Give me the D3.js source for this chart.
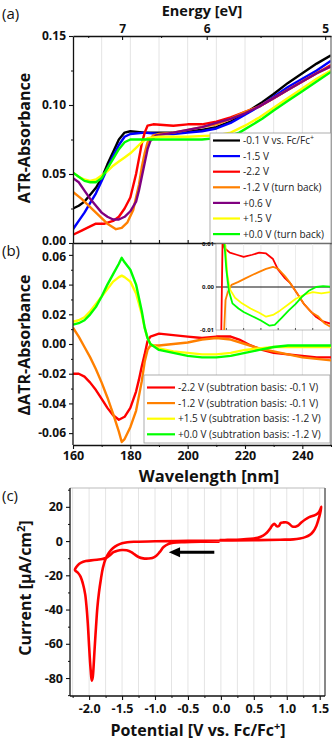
<!DOCTYPE html>
<html><head><meta charset="utf-8">
<script src="https://cdn.jsdelivr.net/npm/d3@7"></script>
<style>body{margin:0;background:#fff;} svg{display:block;}</style>
</head><body><svg id="c" width="333" height="742"></svg>
<script>
// ---------------- DATA ----------------
// Panel (a): ATR absorbance spectra [wavelength nm, absorbance]
const specM01 = [[160,0.025],[162,0.027],[164,0.030],[166,0.035],[168,0.040],[170,0.047],[172,0.057],[174,0.066],[176,0.075],[178,0.080],[180,0.081],[185,0.080],[190,0.080],[195,0.080],[200,0.081],[205,0.082],[210,0.084],[215,0.088],[220,0.094],[223,0.098],[226,0.102],[230,0.108],[235,0.116],[240,0.123],[245,0.130],[250,0.136]];
const specM15 = [[160,0.010],[162,0.016],[164,0.022],[166,0.029],[168,0.036],[170,0.045],[172,0.054],[174,0.063],[176,0.071],[178,0.077],[180,0.079],[185,0.080],[190,0.079],[195,0.079],[200,0.080],[205,0.081],[210,0.083],[215,0.087],[220,0.093],[225,0.099],[230,0.106],[235,0.113],[240,0.119],[245,0.125],[250,0.132]];
const specM22 = [[160,0.006],[163,0.009],[166,0.012],[168,0.014],[171,0.014],[174,0.016],[176,0.019],[178,0.025],[180,0.033],[182,0.050],[184,0.072],[185,0.080],[186,0.085],[188,0.086],[195,0.085],[200,0.086],[205,0.086],[210,0.088],[215,0.091],[220,0.095],[225,0.099],[230,0.105],[235,0.111],[240,0.117],[245,0.123],[250,0.129]];
const specM12 = [[160,0.037],[163,0.032],[166,0.026],[169,0.020],[172,0.014],[175,0.010],[177,0.011],[179,0.015],[181,0.024],[183,0.042],[184,0.055],[185,0.065],[186,0.073],[188,0.078],[190,0.079],[195,0.080],[200,0.082],[205,0.084],[210,0.086],[215,0.090],[220,0.095],[225,0.099],[230,0.105],[235,0.111],[240,0.117],[245,0.123],[250,0.128]];
const specP06 = [[160,0.047],[162,0.044],[164,0.038],[166,0.032],[168,0.027],[170,0.022],[172,0.019],[174,0.017],[176,0.017],[178,0.019],[180,0.023],[182,0.030],[183,0.038],[184,0.048],[185,0.058],[186,0.068],[187,0.074],[189,0.078],[195,0.080],[200,0.082],[205,0.084],[210,0.087],[215,0.090],[220,0.094],[225,0.099],[230,0.105],[235,0.111],[240,0.117],[245,0.123],[250,0.128]];
const specP15 = [[160,0.051],[162,0.048],[164,0.046],[166,0.045],[168,0.046],[170,0.049],[172,0.052],[174,0.056],[176,0.059],[178,0.062],[180,0.065],[182,0.069],[184,0.073],[186,0.076],[190,0.077],[200,0.077],[210,0.078],[215,0.080],[220,0.085],[225,0.091],[230,0.098],[235,0.105],[240,0.112],[245,0.119],[250,0.125]];
const specP00 = [[160,0.051],[162,0.048],[164,0.045],[166,0.044],[168,0.044],[170,0.047],[172,0.054],[174,0.061],[176,0.068],[178,0.073],[180,0.075],[185,0.075],[190,0.075],[195,0.075],[200,0.075],[205,0.075],[210,0.076],[215,0.078],[218,0.080],[222,0.085],[226,0.090],[230,0.096],[235,0.103],[240,0.110],[245,0.117],[250,0.124]];
const legendA = ["-0.1 V vs. Fc/Fc|+","-1.5 V","-2.2 V","-1.2 V (turn back)","+0.6 V","+1.5 V","+0.0 V (turn back)"];
const colorsA = ["#000000","#0000ff","#ff0000","#ff8000","#800080","#ffff00","#00ff00"];

// Panel (b): difference spectra [wavelength nm, dAbs]
const diffM22 = [[160,-0.020],[162,-0.020],[164,-0.022],[166,-0.026],[168,-0.031],[170,-0.037],[172,-0.043],[174,-0.048],[176,-0.051],[178,-0.049],[180,-0.043],[182,-0.032],[183,-0.024],[184,-0.015],[185,-0.007],[186,0.002],[187,0.005],[190,0.007],[195,0.006],[200,0.005],[205,0.004],[210,0.005],[215,0.005],[218,0.003],[222,-0.001],[226,-0.004],[230,-0.006],[235,-0.007],[240,-0.008],[245,-0.009],[250,-0.009]];
const diffM12 = [[160,0.011],[162,0.005],[164,-0.002],[166,-0.009],[168,-0.017],[170,-0.026],[172,-0.036],[174,-0.047],[176,-0.059],[177,-0.066],[178,-0.064],[180,-0.056],[182,-0.045],[184,-0.025],[185,-0.012],[186,-0.004],[187,-0.001],[190,-0.001],[195,0.000],[200,0.001],[205,0.003],[210,0.004],[215,0.003],[220,0.000],[225,-0.003],[230,-0.005],[235,-0.007],[240,-0.009],[245,-0.010],[250,-0.011]];
const diffP15 = [[160,0.015],[162,0.016],[164,0.018],[166,0.022],[168,0.027],[170,0.032],[172,0.037],[174,0.042],[176,0.045],[177,0.046],[178,0.045],[180,0.042],[182,0.034],[184,0.020],[185,0.011],[186,0.004],[187,0.000],[190,-0.003],[195,-0.005],[200,-0.006],[205,-0.007],[210,-0.007],[215,-0.006],[220,-0.004],[225,-0.003],[230,-0.002],[235,-0.002],[240,-0.002],[245,-0.002],[250,-0.002]];
const diffP00 = [[160,0.013],[162,0.014],[164,0.016],[166,0.020],[168,0.025],[170,0.032],[172,0.040],[174,0.047],[176,0.054],[177,0.058],[178,0.055],[180,0.050],[182,0.040],[184,0.022],[185,0.011],[186,0.004],[187,0.000],[190,-0.004],[195,-0.006],[200,-0.008],[205,-0.009],[210,-0.009],[215,-0.008],[220,-0.006],[225,-0.004],[230,-0.002],[235,-0.001],[240,-0.001],[245,-0.001],[250,-0.001]];
const legendB = ["-2.2 V (subtration basis: -0.1 V)","-1.2 V (subtration basis: -0.1 V)","+1.5 V (subtration basis: -1.2 V)","+0.0 V (subtration basis: -1.2 V)"];
const colorsB = ["#ff0000","#ff8000","#ffff00","#00ff00"];

// Inset of (b): zoomed difference spectra
const insetM22 = [[187.0,-0.012],[187.8,0.011],[189,0.009],[192,0.008],[196,0.0075],[200,0.007],[205,0.0075],[209,0.008],[213,0.0078],[217,0.0065],[220,0.004],[224,0.002],[227,0.0009],[231,-0.0015],[235,-0.004],[238,-0.0053],[242,-0.007],[246,-0.008],[250,-0.0085]];
const insetM12 = [[188.5,-0.012],[189.5,-0.003],[191,-0.001],[193,0.0005],[197,0.0012],[201,0.002],[205,0.0028],[209,0.0035],[213,0.0042],[217,0.0047],[220,0.0042],[224,0.0025],[227,0.0009],[231,-0.0015],[235,-0.004],[239,-0.0058],[243,-0.0068],[247,-0.0085],[250,-0.0092]];
const insetP15 = [[189,0.012],[190.5,0.003],[192,-0.0005],[195,-0.0025],[199,-0.0038],[204,-0.005],[209,-0.006],[213,-0.0069],[217,-0.0065],[221,-0.0055],[226,-0.004],[230,-0.0028],[235,-0.0018],[240,-0.0012],[245,-0.0015],[250,-0.0012]];
const insetP00 = [[188.5,0.012],[190,0.004],[191.5,-0.001],[193.5,-0.0038],[197,-0.005],[200,-0.0058],[205,-0.0068],[210,-0.0078],[215,-0.009],[218,-0.0088],[222,-0.0072],[226,-0.0055],[230,-0.004],[234,-0.0022],[238,-0.0008],[242,0.0],[246,0.0002],[250,0.0001]];

// Panel (c): cyclic voltammogram [potential V, current uA/cm2]
const cvData = [[-0.02,-0.3],[-0.3,-0.4],[-0.55,-0.6],[-0.72,-0.9],[-0.8,-1.8],[-0.87,-3.5],[-0.93,-6.5],[-0.98,-8.6],[-1.04,-9.9],[-1.10,-10.2],[-1.18,-10.1],[-1.25,-9.3],[-1.31,-7.8],[-1.36,-6.4],[-1.43,-5.4],[-1.50,-5.2],[-1.57,-5.6],[-1.63,-6.5],[-1.68,-8.2],[-1.73,-9.6],[-1.80,-10.5],[-1.88,-10.9],[-1.97,-11.3],[-2.05,-11.7],[-2.12,-12.6],[-2.17,-14.0],[-2.215,-16.9],
[-2.17,-18.5],[-2.13,-20.8],[-2.09,-25.5],[-2.06,-31],[-2.04,-38],[-2.02,-48],[-2.005,-58],[-1.99,-68],[-1.975,-76],[-1.96,-81.5],[-1.945,-79.5],[-1.93,-72],[-1.915,-62],[-1.895,-50],[-1.875,-39],[-1.85,-30],[-1.82,-22],[-1.79,-15.5],[-1.75,-10.5],[-1.70,-6.8],[-1.64,-4.2],[-1.57,-2.4],[-1.50,-1.3],[-1.42,-0.7],[-1.3,-0.4],[-1.0,-0.1],[-0.5,0.1],[0.0,0.3],[0.5,0.5],[0.9,0.8],[1.1,1.0],[1.2,1.5],[1.28,2.3],[1.35,3.6],[1.40,5.5],[1.45,9.0],[1.48,12.5],[1.505,16],[1.525,20],
[1.49,17],[1.45,15.6],[1.40,14.8],[1.34,14.0],[1.28,12.6],[1.22,10.8],[1.17,9.0],[1.13,8.4],[1.08,8.6],[1.04,10.0],[1.00,10.9],[0.95,10.9],[0.91,10.6],[0.88,8.8],[0.85,8.6],[0.81,10.1],[0.78,9.2],[0.75,7.4],[0.70,5.0],[0.64,3.2],[0.56,2.0],[0.45,1.3],[0.3,0.9],[0.1,0.7],[-0.02,0.6]];

// Tick values / labels
const absTicks = [0, 0.05, 0.10, 0.15];
const absLabels = ["0.00","0.05","0.10","0.15"];
const dAbsTicks = [-0.06,-0.04,-0.02,0,0.02,0.04,0.06];
const dAbsLabels = ["-0.06","-0.04","-0.02","0.00","0.02","0.04","0.06"];
const wlTicks = [160,180,200,220,240];
const wlLabels = ["160","180","200","220","240"];
const energyTicks = [7,6,5];
const energyLabels = ["7","6","5"];
const insetTicks = [-0.01,0,0.01];
const insetLabels = ["-0.01","0.00","0.01"];
const potTicks = [-2.0,-1.5,-1.0,-0.5,0.0,0.5,1.0,1.5];
const potLabels = ["-2.0","-1.5","-1.0","-0.5","0.0","0.5","1.0","1.5"];
const curTicks = [-80,-60,-40,-20,0,20];
const curLabels = ["-80","-60","-40","-20","0","20"];

// ---------------- DRAWING ----------------
const FONT = '"Open Sans","Noto Sans",sans-serif';
const svg = d3.select("#c").style("font-family", FONT);
const A = {l:73, r:331, t:36, b:243};
const B = {l:73, r:331, t:243, b:445};
const C = {l:70, r:325, t:488, b:696};
const I = {l:216, r:330, t:244, b:330};

const xW = d3.scaleLinear().domain([160,250]).range([A.l, A.r]);
const yA = d3.scaleLinear().domain([0,0.15]).range([A.b, A.t]);
const yB = d3.scaleLinear().domain([-0.068,0.068]).range([B.b, B.t]);
const xI = d3.scaleLinear().domain([184,250]).range([I.l, I.r]);
const yI = d3.scaleLinear().domain([-0.01,0.01]).range([I.b, I.t]);
const xV = d3.scaleLinear().domain([-2.29,1.58]).range([C.l, C.r]);
const yC = d3.scaleLinear().domain([-90.5,31]).range([C.b, C.t]);

const defs = svg.append("defs");
function clip(id, r){ defs.append("clipPath").attr("id",id).append("rect").attr("x",r.l).attr("y",r.t).attr("width",r.r-r.l).attr("height",r.b-r.t); }
clip("ca",A); clip("cb",B); clip("cc",C); clip("ci",I);

// grid lines
function vgrid(vals, xs, r){
  svg.append("g").selectAll("line").data(vals).join("line")
    .attr("x1",d=>xs(d)).attr("x2",d=>xs(d)).attr("y1",r.t).attr("y2",r.b)
    .attr("stroke","#e4e4e4").attr("stroke-width",1);
}
vgrid(d3.range(170,250,10), xW, A);
vgrid(d3.range(170,250,10), xW, B);
vgrid(d3.range(-2.25,1.56,0.25), xV, C);

function styleAxis(g, size){
  g.select(".domain").attr("stroke","#111").attr("stroke-width",1.3);
  g.selectAll(".tick line").attr("stroke","#111").attr("stroke-width",1.1);
  g.selectAll("text").attr("font-family",FONT).attr("font-weight","bold").attr("font-size",size).attr("fill","#111");
}
function minor(gen, tr){
  const g = svg.append("g").attr("transform",tr).call(gen.tickFormat("").tickSizeOuter(0));
  g.select(".domain").remove();
  g.selectAll(".tick line").attr("stroke","#111").attr("stroke-width",1);
}

// ---- Panel A lines
const lineA = d3.line().x(d=>xW(d[0])).y(d=>yA(d[1]));
const seriesA = [specM01, specM15, specM22, specM12, specP06, specP15, specP00];
svg.append("g").attr("clip-path","url(#ca)").selectAll("path").data(seriesA).join("path")
  .attr("d",lineA).attr("fill","none").attr("stroke",(d,i)=>colorsA[i]).attr("stroke-width",2.4).attr("stroke-linejoin","round");

// frames A
svg.append("line").attr("x1",A.r).attr("x2",A.r).attr("y1",A.t).attr("y2",B.b).attr("stroke","#888").attr("stroke-width",1.5);
// axes A
let g = svg.append("g").attr("transform",`translate(${A.l},0)`)
  .call(d3.axisLeft(yA).tickValues(absTicks).tickFormat((d,i)=>absLabels[i]).tickSize(4).tickSizeOuter(0).tickPadding(3));
styleAxis(g, 12);
g.selectAll(".tick text").filter(d=>d===0).attr("dy","0.12em");
minor(d3.axisLeft(yA).tickValues([0.025,0.075,0.125]).tickSize(2), `translate(${A.l},0)`);
g = svg.append("g").attr("transform",`translate(0,${A.t})`)
  .call(d3.axisTop(xW).tickValues(energyTicks.map(e=>1239.84/e)).tickFormat((d,i)=>energyLabels[i]).tickSize(-4).tickSizeOuter(0).tickPadding(3));
styleAxis(g, 12);
minor(d3.axisTop(xW).tickValues([7.5,6.5,5.5].map(e=>1239.84/e)).tickSize(-2), `translate(0,${A.t})`);
g = svg.append("g").attr("transform",`translate(0,${A.b})`)
  .call(d3.axisBottom(xW).tickValues(d3.range(170,250,10)).tickFormat("").tickSize(-3).tickSizeOuter(0));
styleAxis(g, 12);

// legend A
const legA = svg.append("g");
legA.append("rect").attr("x",210).attr("y",133).attr("width",121).attr("height",110).attr("fill","#fff").attr("stroke","#9a9a9a").attr("stroke-width",0.8);
legendA.forEach((t,i)=>{
  const y = 140.5 + i*15.6;
  legA.append("line").attr("x1",213).attr("x2",240).attr("y1",y).attr("y2",y).attr("stroke",colorsA[i]).attr("stroke-width",2.2);
  const tx = legA.append("text").attr("x",243).attr("y",y+3.6).attr("font-size",10).attr("fill","#222");
  const parts = t.split("|");
  tx.append("tspan").text(parts[0]);
  if(parts[1]) tx.append("tspan").attr("dy",-4).attr("font-size",7).text(parts[1]);
});

// ---- Panel B
const lineB = d3.line().x(d=>xW(d[0])).y(d=>yB(d[1]));
const seriesB = [diffM22, diffM12, diffP15, diffP00];
svg.append("g").attr("clip-path","url(#cb)").selectAll("path").data(seriesB).join("path")
  .attr("d",lineB).attr("fill","none").attr("stroke",(d,i)=>colorsB[i]).attr("stroke-width",2.4).attr("stroke-linejoin","round");
g = svg.append("g").attr("transform",`translate(${B.l},0)`)
  .call(d3.axisLeft(yB).tickValues(dAbsTicks).tickFormat((d,i)=>dAbsLabels[i]).tickSize(4).tickSizeOuter(0).tickPadding(3));
styleAxis(g, 12);
g.select(".domain").attr("d",`M-0,${B.t}V${B.b}`);
g.selectAll(".tick text").filter(d=>d===0.06).attr("dy","0.45em");
minor(d3.axisLeft(yB).tickValues([-0.05,-0.03,-0.01,0.01,0.03,0.05]).tickSize(2), `translate(${B.l},0)`);
g = svg.append("g").attr("transform",`translate(0,${B.b})`)
  .call(d3.axisBottom(xW).tickValues(wlTicks).tickFormat((d,i)=>wlLabels[i]).tickSize(4).tickSizeOuter(0).tickPadding(2));
styleAxis(g, 12.5);
minor(d3.axisBottom(xW).tickValues(d3.range(170,251,20)).tickSize(2), `translate(0,${B.b})`);

// inset
const ins = svg.append("g");
ins.append("rect").attr("x",I.l).attr("y",I.t).attr("width",I.r-I.l).attr("height",I.b-I.t).attr("fill","#fff").attr("stroke","#aaa").attr("stroke-width",0.8);
ins.selectAll("line.g").data(d3.range(190,250,10)).join("line").attr("class","g")
  .attr("x1",d=>xI(d)).attr("x2",d=>xI(d)).attr("y1",I.t).attr("y2",I.b).attr("stroke","#ececec");
ins.append("line").attr("x1",I.l).attr("x2",I.r).attr("y1",yI(0)).attr("y2",yI(0)).attr("stroke","#111").attr("stroke-width",1);
const lineI = d3.line().x(d=>xI(d[0])).y(d=>yI(d[1]));
ins.append("g").attr("clip-path","url(#ci)").selectAll("path").data([insetM22, insetM12, insetP15, insetP00]).join("path")
  .attr("d",lineI).attr("fill","none").attr("stroke",(d,i)=>colorsB[i]).attr("stroke-width",1.8).attr("stroke-linejoin","round");
ins.selectAll("text").data(insetTicks).join("text")
  .attr("x",I.l-2).attr("y",d=>yI(d)+2).attr("text-anchor","end").attr("font-size",6).attr("font-weight","bold").attr("fill","#111")
  .text((d,i)=>insetLabels[i]);
ins.selectAll("line.t").data(d3.range(190,250,10)).join("line").attr("class","t")
  .attr("x1",d=>xI(d)).attr("x2",d=>xI(d)).attr("y1",I.b).attr("y2",I.b-2).attr("stroke","#555");

// legend B
const legB = svg.append("g");
legB.append("rect").attr("x",144).attr("y",375).attr("width",186).attr("height",68).attr("fill","#fff").attr("stroke","#9a9a9a").attr("stroke-width",0.8);
legendB.forEach((t,i)=>{
  const y = 387.5 + i*15.6;
  legB.append("line").attr("x1",147).attr("x2",175).attr("y1",y).attr("y2",y).attr("stroke",colorsB[i]).attr("stroke-width",2.2);
  legB.append("text").attr("x",178).attr("y",y+3.6).attr("font-size",10).attr("fill","#222").text(t);
});

// ---- Panel C
svg.append("line").attr("x1",C.l).attr("x2",C.r).attr("y1",C.t).attr("y2",C.t).attr("stroke","#bbb").attr("stroke-width",1);
svg.append("line").attr("x1",C.r).attr("x2",C.r).attr("y1",C.t).attr("y2",C.b).attr("stroke","#888").attr("stroke-width",2);
const lineC = d3.line().x(d=>xV(d[0])).y(d=>yC(d[1])).curve(d3.curveCatmullRom.alpha(0.5));
svg.append("path").datum(cvData).attr("clip-path","url(#cc)").attr("d",lineC).attr("fill","none").attr("stroke","#ff0000").attr("stroke-width",2.6).attr("stroke-linejoin","round");
g = svg.append("g").attr("transform",`translate(${C.l},0)`)
  .call(d3.axisLeft(yC).tickValues(curTicks).tickFormat((d,i)=>curLabels[i]).tickSize(4).tickSizeOuter(0).tickPadding(3));
styleAxis(g, 12.5);
g.select(".domain").attr("d",`M0,${C.t}V${C.b}`);
minor(d3.axisLeft(yC).tickValues([-90,-70,-50,-30,-10,10,30]).tickSize(2), `translate(${C.l},0)`);
g = svg.append("g").attr("transform",`translate(0,${C.b})`)
  .call(d3.axisBottom(xV).tickValues(potTicks).tickFormat((d,i)=>potLabels[i]).tickSize(4).tickSizeOuter(0).tickPadding(4));
styleAxis(g, 12.5);
g.select(".domain").attr("d",`M${C.l},0H${C.r}`);
minor(d3.axisBottom(xV).tickValues(d3.range(-2.25,1.56,0.5)).tickSize(2), `translate(0,${C.b})`);

// arrow
const ay = yC(-6.6);
svg.append("line").attr("x1",xV(-0.1)).attr("x2",xV(-0.65)).attr("y1",ay).attr("y2",ay).attr("stroke","#000").attr("stroke-width",3);
svg.append("path").attr("d",`M${xV(-0.79)},${ay}L${xV(-0.62)},${ay-5}L${xV(-0.62)},${ay+5}Z`).attr("fill","#000");

// ---- Titles / labels
function txt(x,y,size,weight,anchor,rot){
  const t = svg.append("text").attr("x",x).attr("y",y).attr("font-size",size).attr("font-weight",weight)
    .attr("text-anchor",anchor||"middle").attr("fill","#111");
  if(rot) t.attr("transform",`rotate(-90,${x},${y})`);
  return t;
}
txt(2,19,15,"normal","start").text("(a)");
txt(2,256,15,"normal","start").text("(b)");
txt(2,501,15,"normal","start").text("(c)");
txt(202,15.5,14.5,"bold").text("Energy [eV]");
txt(30,138,16,"bold","middle",true).text("ATR-Absorbance");
txt(30,345,16,"bold","middle",true).text("\u0394ATR-Absorbance");
txt(209,482,16.5,"bold").text("Wavelength [nm]");
const ct = txt(31,588,16,"bold","middle",true);
ct.append("tspan").text("Current [\u00b5A/cm");
ct.append("tspan").attr("dy",-6).attr("font-size",11).text("2");
ct.append("tspan").attr("dy",6).text("]");
const pt = txt(198,736,16,"bold");
pt.append("tspan").text("Potential [V vs. Fc/Fc");
pt.append("tspan").attr("dy",-6).attr("font-size",11).text("+");
pt.append("tspan").attr("dy",6).text("]");
</script></body></html>
